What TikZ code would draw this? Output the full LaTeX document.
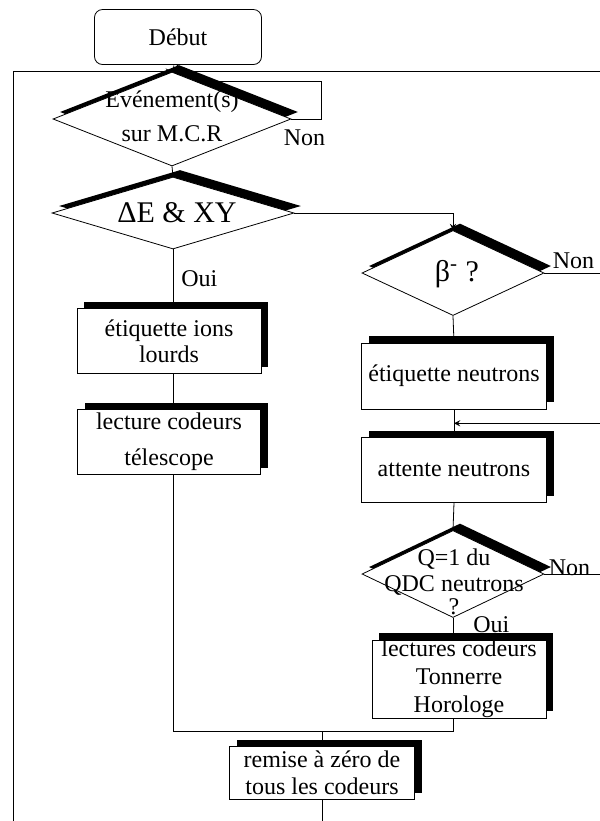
\documentclass[tikz,border=0pt]{standalone}
\usepackage{fontspec}
\setmainfont{Liberation Serif}
\usetikzlibrary{shapes.geometric, shadows, calc}

\begin{document}
\begin{tikzpicture}[
        x=0.5pt, y=-0.5pt,
        txt/.style={font=\fontsize{12}{14}\selectfont, align=center},
        bigtxt/.style={font=\fontsize{15}{18}\selectfont, align=center},
        shadowed/.style={drop shadow={shadow xshift=3.5pt, shadow yshift=3.5pt, fill=black, opacity=1}},
        box/.style={rectangle, draw, fill=white, shadowed, txt, inner sep=0pt},
        decision/.style={diamond, draw, fill=white, shadowed, inner sep=0pt},
        startbox/.style={rectangle, rounded corners=4pt, draw, txt},
        arrow/.style={->, >=stealth},
        lbl/.style={txt, inner sep=2pt}
    ]
    \useasboundingbox (0,0) rectangle (600,821);

    % Steps
    \node[startbox, minimum width=83.5pt, minimum height=27.5pt] (debut) at (178,37) {Début};
    \node[decision, minimum width=119pt, minimum height=47pt] (mcr) at (172,119) {};
    \node[txt] (mcrtxt) at (172,116) {Evénement(s)\\[3pt]sur M.C.R};
    \node[decision, minimum width=121pt, minimum height=36pt] (dexy) at (173,213) {};
    \node[bigtxt] (dexytxt) at (177,213) {ΔE \& XY};
    \node[box, minimum width=92pt, minimum height=32.5pt] (etiqions) at (169,341) {étiquette ions\\[-1pt]lourds};
    \node[box, minimum width=91.5pt, minimum height=32.5pt] (lecture) at (169,442) {lecture codeurs\\[4pt]télescope};

    \node[decision, minimum width=91pt, minimum height=42.5pt] (beta) at (453,273) {};
    \node[bigtxt] (betatxt) at (457,274) {β\textsuperscript{-} ?};
    \node[box, minimum width=92.5pt, minimum height=33pt] (etiqneut) at (454,376) {étiquette neutrons};
    \node[box, minimum width=92.5pt, minimum height=32.5pt] (attente) at (454,470) {attente neutrons};
    \node[decision, minimum width=91pt, minimum height=43.5pt] (qdc) at (453,574) {};
    \node[txt] (qdctxt) at (454,582) {Q=1 du\\[-1pt]QDC neutrons\\[-2.5pt]?};
    \node[box, minimum width=87pt, minimum height=38.5pt] (lectures) at (459,679) {lectures codeurs\\Tonnerre\\Horologe};

    \node[box, minimum width=92.5pt, minimum height=26.5pt] (remise) at (322,773) {remise à zéro de\\[-0.5pt]tous les codeurs};

    % Links
    \coordinate (loopbot) at (13,840);
    \coordinate (join) at ($(remise.north)+(0,-15)$);
    \coordinate (merge) at ($(etiqneut.south)!.5!(attente.north)$);

    \draw[arrow] (debut.south) -- (mcr.north);
    \draw[arrow] (remise.south) |- (loopbot) |- (mcr.north);
    \draw[arrow] (mcr.east) -- node[lbl, below right, pos=0, xshift=-6pt, yshift=-3pt] (non1) {Non} ++(30,0) |- ($(mcr.north)!.2!(mcr.east)$);
    \draw (mcr.south) -- (dexy.north);
    \draw (dexy.south) -- node[lbl, right, pos=.5, xshift=2pt] (oui1) {Oui} (dexy.south |- etiqions.north);
    \draw (dexy.south |- etiqions.south) -- (dexy.south |- lecture.north);
    \draw (dexy.south |- lecture.south) |- (join) -| (qdc.south |- lectures.south);
    \draw (join) -- (remise.north);

    \draw[arrow] (dexy.east) -| (beta.north);
    \draw[arrow] (beta.east) -- node[lbl, above right, pos=0, xshift=2pt] (non2) {Non} ++(70,0) |- (mcr.north);
    \draw (beta.south) -- (etiqneut.north);
    \draw (etiqneut.south) -- (attente.north);
    \draw[arrow] (qdc.east) -- node[lbl, above right, pos=0, yshift=-3pt] (non3) {Non} ++(70,0) |- (merge);
    \draw (attente.south) -- (qdc.north);
    \draw (qdc.south) -- node[lbl, right, pos=.5, xshift=8pt, yshift=2pt] (oui2) {Oui} (qdc.south |- lectures.north);

\end{tikzpicture}
\end{document}
